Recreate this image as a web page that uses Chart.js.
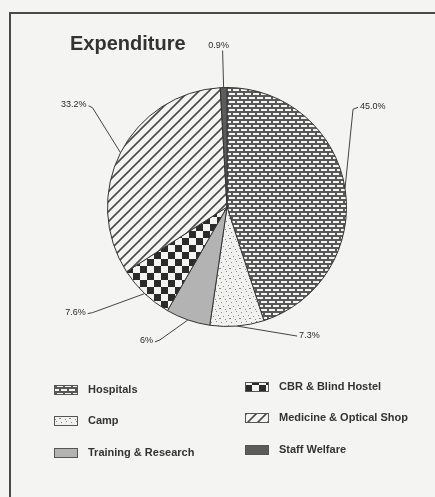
<!DOCTYPE html>
<html>
<head>
<meta charset="utf-8">
<script src="https://cdn.jsdelivr.net/npm/chart.js@4.4.1/dist/chart.umd.min.js"></script>
<style>
  html, body { margin: 0; padding: 0; background: #f4f4f2; }
  #wrap { position: relative; width: 435px; height: 497px; overflow: hidden; }
  #frame { position: absolute; left: 9px; top: 12px; width: 460px; height: 520px;
           border-left: 2px solid #4a4a4a; border-top: 2px solid #4a4a4a; }
  canvas { position: absolute; left: 0; top: 0; }
</style>
</head>
<body>
<div id="wrap">
  <div id="frame"></div>
  <canvas id="expChart" width="435" height="497"></canvas>
</div>
<script>
// data (clockwise from 12 o'clock)
const categories = ['Hospitals', 'Camp', 'Training & Research', 'CBR & Blind Hostel', 'Medicine & Optical Shop', 'Staff Welfare'];
const expenditure = [45.0, 7.3, 6.0, 7.6, 33.2, 0.9];
const valueLabels = ['45.0%', '7.3%', '6%', '7.6%', '33.2%', '0.9%'];
const chartTitle = 'Expenditure';
// legend reading order: left column then right column, row by row
const legendOrder = [0, 3, 1, 4, 2, 5];

const canvas = document.getElementById('expChart');
const ctx = canvas.getContext('2d');

function makePattern(w, h, draw) {
    const c = document.createElement('canvas');
    c.width = w; c.height = h;
    draw(c.getContext('2d'), w, h);
    return ctx.createPattern(c, 'repeat');
}

// brick fill for hospitals
const brick = makePattern(8, 8, function(g) {
    g.fillStyle = '#585858'; g.fillRect(0, 0, 8, 8);
    g.fillStyle = '#f4f4f2';
    g.fillRect(1, 1, 6, 2);
    g.fillRect(5, 5, 3, 2);
    g.fillRect(0, 5, 3, 2);
});
// light speckle for camp
const speckle = makePattern(10, 10, function(g) {
    g.fillStyle = '#f1f1ef'; g.fillRect(0, 0, 10, 10);
    g.fillStyle = '#8a8a8a';
    [[1, 2], [6, 1], [3, 6], [8, 5], [5, 9], [9, 8], [0, 8]].forEach(function(p) { g.fillRect(p[0], p[1], 1, 1); });
});
// checkerboard for CBR
const checker = makePattern(14, 14, function(g) {
    g.fillStyle = '#f4f4f2'; g.fillRect(0, 0, 14, 14);
    g.fillStyle = '#2b2b2b';
    g.fillRect(0, 0, 7, 7);
    g.fillRect(7, 7, 7, 7);
});
// diagonal hatch for medicine
const hatch = makePattern(10, 10, function(g) {
    g.fillStyle = '#f4f4f2'; g.fillRect(0, 0, 10, 10);
    g.strokeStyle = '#4a4a4a'; g.lineWidth = 1.6;
    g.beginPath();
    g.moveTo(-5, 5); g.lineTo(5, -5);
    g.moveTo(0, 10); g.lineTo(10, 0);
    g.moveTo(5, 15); g.lineTo(15, 5);
    g.stroke();
});
const fills = [brick, speckle, '#b3b3b3', checker, hatch, '#5c5c5c'];

// leader line bends, relative to the rim point of each slice: [elbowDx, elbowDy, tickDx, tickDy, align]
const leaders = [
    [8, -79, 5, -2, 'left'],
    [60, 10, 0, 0, 'left'],
    [-28, 20, -5, 2, 'right'],
    [-52, 19, -5, 1, 'right'],
    [-28, -45, -4, -2, 'right'],
    [-1, -37, 0, 0, 'center']
];

const titlePlugin = {
    id: 'scanTitle',
    afterDraw(chart) {
        const c = chart.ctx;
        c.save();
        c.font = 'bold 20px "Liberation Sans", Arial, sans-serif';
        c.fillStyle = '#333333';
        c.textBaseline = 'alphabetic';
        c.fillText(chartTitle, 70, 50);
        c.restore();
    }
};

const leaderPlugin = {
    id: 'leaders',
    afterDatasetsDraw(chart) {
        const c = chart.ctx;
        const arcs = chart.getDatasetMeta(0).data;
        c.save();
        c.strokeStyle = '#444444';
        c.lineWidth = 1;
        c.fillStyle = '#2a2a2a';
        c.font = '9px "Liberation Sans", Arial, sans-serif';
        arcs.forEach(function(arc, i) {
            const mid = (arc.startAngle + arc.endAngle) / 2;
            const rx = arc.x + Math.cos(mid) * arc.outerRadius;
            const ry = arc.y + Math.sin(mid) * arc.outerRadius;
            const L = leaders[i];
            const ex = rx + L[0], ey = ry + L[1];
            const tx = ex + L[2], ty = ey + L[3];
            c.beginPath();
            c.moveTo(rx, ry);
            c.lineTo(ex, ey);
            c.lineTo(tx, ty);
            c.stroke();
            c.textAlign = L[4];
            if (L[4] === 'center') {
                c.textBaseline = 'bottom';
                c.fillText(valueLabels[i], tx - 4, ty - 1);
            } else {
                c.textBaseline = 'middle';
                c.fillText(valueLabels[i], tx + (L[4] === 'left' ? 2 : -2), ty - 1);
            }
        });
        c.restore();
    }
};

const legendPlugin = {
    id: 'gridLegend',
    afterDraw(chart) {
        const c = chart.ctx;
        const colX = [54, 245];
        const rowY = [390, 421, 453];
        c.save();
        c.font = 'bold 11px "Liberation Sans", Arial, sans-serif';
        c.textBaseline = 'middle';
        c.textAlign = 'left';
        legendOrder.forEach(function(idx, k) {
            const x = colX[k % 2];
            const y = rowY[Math.floor(k / 2)] - (k % 2 ? 3 : 0);
            c.fillStyle = fills[idx];
            c.fillRect(x, y - 5, 24, 10);
            c.strokeStyle = '#555555';
            c.lineWidth = 1;
            c.strokeRect(x + 0.5, y - 4.5, 23, 9);
            c.fillStyle = '#333333';
            c.fillText(categories[idx], x + 34, y);
        });
        c.restore();
    }
};

new Chart(ctx, {
    type: 'pie',
    data: {
        labels: categories,
        datasets: [{
            data: expenditure,
            backgroundColor: fills,
            borderColor: '#333333',
            borderWidth: 1
        }]
    },
    options: {
        responsive: false,
        animation: false,
        layout: { padding: { left: 107, right: 88, top: 87, bottom: 170 } },
        plugins: {
            legend: { display: false },
            tooltip: { enabled: false }
        }
    },
    plugins: [titlePlugin, leaderPlugin, legendPlugin]
});
</script>
</body>
</html>
